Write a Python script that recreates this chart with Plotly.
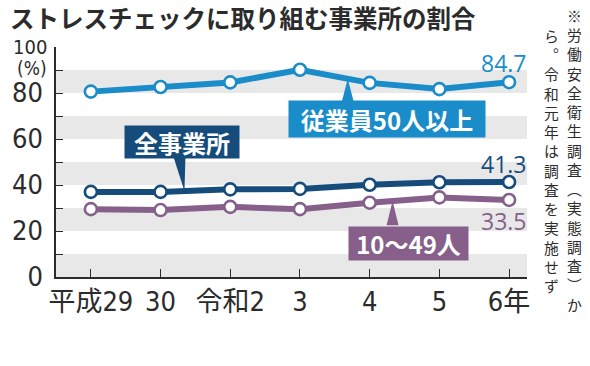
import numpy as np
import plotly.graph_objects as go

# ---- data ----
categories = ["平成29", "30", "令和2", "3", "4", "5", "6年"]
all_sites = [37.0, 37.0, 38.1, 38.3, 40.1, 41.2, 41.3]
over50 = [80.6, 82.6, 84.6, 90.1, 84.4, 81.7, 84.7]
small_10_49 = [29.5, 29.1, 30.5, 29.5, 32.3, 34.6, 33.5]
y_ticks = [0, 20, 40, 60, 80]
title = "ストレスチェックに取り組む事業所の割合"
note_col1 = "※労働安全衛生調査︵実態調査︶か"
note_col2 = "ら︒令和元年は調査を実施せず"

NAVY = "#164c7b"
BLUE = "#1a8cc9"
PURPLE = "#86608b"
BAND = "#e8e8e8"
INK = "#2b2b2b"

W, H = 590, 366
L, R, T, B = 54, 63, 47.3, 89.3
plot_w = W - L - R
plot_h = H - T - B
X0, X1 = -0.5, 6.257

def px_to_x(px):
    return X0 + (px - L) / plot_w * (X1 - X0)

def py_to_y(py):
    return (H - B - py) / plot_h * 100

def pxp(px):
    return (px - L) / plot_w

def pyp(py):
    return (H - B - py) / plot_h

xs = list(range(len(categories)))
fig = go.Figure()

for vals, col, name in [(small_10_49, PURPLE, "10〜49人"), (all_sites, NAVY, "全事業所"), (over50, BLUE, "従業員50人以上")]:
    fig.add_trace(go.Scatter(
        x=xs, y=vals, mode="lines+markers", name=name,
        line=dict(color=col, width=6),
        marker=dict(size=12, color="white", line=dict(color=col, width=2.6)),
        showlegend=False, hoverinfo="skip", cliponaxis=False))

shapes = []
for lo in range(0, 100, 20):
    shapes.append(dict(type="rect", xref="paper", yref="y", x0=0, x1=1, y0=lo, y1=lo + 10,
                       fillcolor=BAND, line=dict(width=0), layer="below"))

def wedge(series, tip_px, base_l_px, base_r_px, base_py, color):
    tx = px_to_x(tip_px)
    ty = float(np.interp(tx, xs, series))
    bl, br = px_to_x(base_l_px), px_to_x(base_r_px)
    by = py_to_y(base_py)
    return dict(type="path", xref="x", yref="y",
                path=f"M {bl} {by} L {br} {by} L {tx} {ty} Z",
                fillcolor=color, line=dict(width=0), layer="above")

shapes.append(wedge(all_sites, 183, 172, 184, 157, NAVY))
shapes.append(wedge(over50, 347, 341, 353, 102, BLUE))
shapes.append(wedge(small_10_49, 392, 386, 398, 225, PURPLE))

annotations = []
# title
annotations.append(dict(text=title, xref="paper", yref="paper", x=pxp(6), y=pyp(18),
                        xanchor="left", yanchor="middle", showarrow=False,
                        font=dict(family="Noto Sans CJK JP", size=24.5, color=INK, weight="bold")))
# label boxes
def box(text, cx, cy, w, h, color):
    annotations.append(dict(text=text, xref="paper", yref="paper", x=pxp(cx), y=pyp(cy),
                            xanchor="center", yanchor="middle", showarrow=False,
                            width=w, height=h, bgcolor=color, borderpad=0,
                            font=dict(family="Noto Sans CJK JP", size=24, color="white", weight="bold")))
box("全事業所", 181, 142, 114, 32, NAVY)
box("従業員50人以上", 386, 119.5, 196, 36, BLUE)
box("10〜49人", 407.5, 243.5, 119, 33, PURPLE)

# end value labels
for txt, col, cy in [("84.7", BLUE, 63.6), ("41.3", NAVY, 164), ("33.5", PURPLE, 221)]:
    annotations.append(dict(text=txt, xref="paper", yref="paper", x=pxp(529), y=pyp(cy),
                            xanchor="right", yanchor="middle", showarrow=False,
                            font=dict(family="Open Sans", size=23, color=col)))
# 100 and (%)
narrow = "Liberation Sans Narrow, DejaVu Sans Condensed, Roboto"
annotations.append(dict(text="100", xref="paper", yref="paper", x=pxp(46), y=pyp(47),
                        xanchor="right", yanchor="middle", showarrow=False, borderpad=0,
                        font=dict(family=narrow, size=20, color=INK)))
annotations.append(dict(text="(%)", xref="paper", yref="paper", x=pxp(46), y=pyp(68),
                        xanchor="right", yanchor="middle", showarrow=False, borderpad=0,
                        font=dict(family=narrow, size=19, color=INK)))
# vertical note (one character per line)
for col_text, lx, top in [(note_col1, 566, 4), (note_col2, 543, 24)]:
    annotations.append(dict(text="<br>".join(list(col_text)), xref="paper", yref="paper",
                            x=pxp(lx), y=pyp(top), xanchor="left", yanchor="top",
                            showarrow=False, align="left", borderpad=0,
                            font=dict(family="Noto Sans CJK JP", size=14.8, color=INK)))

tick_font = dict(family=narrow + ", Noto Sans CJK JP", size=27, color=INK)

fig.update_layout(
    width=W, height=H,
    margin=dict(l=L, r=R, t=T, b=B, pad=0),
    paper_bgcolor="white", plot_bgcolor="white",
    shapes=shapes, annotations=annotations,
    xaxis=dict(range=[X0, X1], tickvals=xs, ticktext=categories, ticks="inside",
               ticklen=8, tickwidth=1.2, tickcolor=INK, showgrid=False, zeroline=False,
               showline=True, linecolor=INK, linewidth=1.5, tickfont=tick_font, fixedrange=True),
    yaxis=dict(range=[0, 100], tickvals=list(range(0, 101, 10)),
               ticktext=[str(v) if v in y_ticks else "" for v in range(0, 101, 10)],
               ticks="inside", ticklen=7, tickwidth=1.2, tickcolor=INK,
               ticklabelstandoff=6,
               showgrid=False, zeroline=False, showline=True, linecolor=INK, linewidth=1.5,
               tickfont=tick_font, fixedrange=True),
)

fig.write_html("out.html", config={"displayModeBar": False},
               post_script="document.body.style.margin='0';document.body.style.overflow='hidden';")
